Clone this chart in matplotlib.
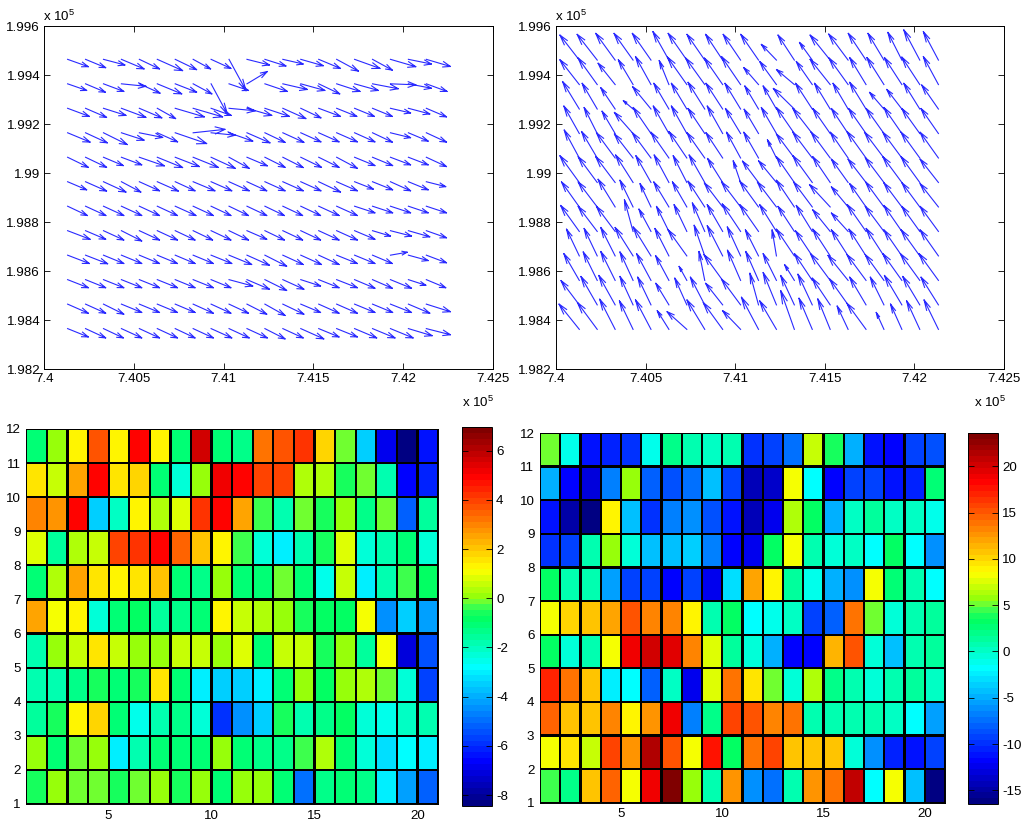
import numpy as np
import matplotlib
matplotlib.use('Agg')
import matplotlib.pyplot as plt
from matplotlib.colors import LinearSegmentedColormap

plt.rcParams['font.family'] = ['Liberation Sans', 'DejaVu Sans']
plt.rcParams['font.size'] = 9.6
plt.rcParams['axes.unicode_minus'] = False
plt.rcParams['mathtext.default'] = 'regular'
plt.rcParams['axes.linewidth'] = 0.7

# arrow tails, metres (same grid in both plots, top row first)
x_left = [740130, 740230, 740330, 740430, 740530, 740630, 740730, 740830, 740930, 741030, 741130,
          741230, 741330, 741430, 741530, 741630, 741730, 741830, 741930, 742030, 742130]
y_left = [199465, 199365, 199265, 199165, 199065, 198965, 198865, 198765, 198665, 198565, 198465, 198365]
x_right = [740130, 740230, 740330, 740430, 740530, 740630, 740730, 740830, 740930, 741030, 741130,
           741230, 741330, 741430, 741530, 741630, 741730, 741830, 741930, 742030, 742134]
y_right = [199462, 199362, 199262, 199162, 199062, 198962, 198862, 198762, 198662, 198562, 198462, 198362]

# top left arrows, metres
u_left = [
    [115, 112, 119, 126, 112, 141, 119, 97, 110, 95, 125, 117, 113, 125, 121, 121, 141, 110, 141, 128, 134],
    [106, 110, 113, 136, 115, 136, 119, 104, 91, 108, 113, 125, 136, 134, 117, 130, 132, 143, 141, 128, 115],
    [121, 117, 125, 136, 125, 102, 162, 164, 112, 145, 138, 136, 128, 112, 121, 112, 110, 110, 112, 119, 112],
    [125, 121, 132, 126, 130, 113, 175, 177, 134, 132, 128, 112, 117, 112, 113, 115, 113, 110, 112, 110, 112],
    [115, 117, 110, 113, 139, 141, 134, 139, 134, 112, 113, 112, 113, 115, 113, 115, 113, 112, 112, 110, 112],
    [106, 117, 125, 108, 112, 117, 110, 121, 115, 112, 110, 112, 113, 112, 121, 115, 104, 112, 112, 110, 108],
    [110, 113, 113, 113, 112, 112, 115, 112, 110, 108, 110, 108, 110, 110, 113, 115, 113, 112, 112, 110, 112],
    [125, 112, 113, 113, 112, 112, 110, 108, 110, 108, 110, 108, 110, 110, 113, 115, 113, 100, 117, 119, 112],
    [121, 123, 113, 113, 112, 112, 110, 112, 115, 126, 125, 121, 113, 115, 113, 115, 113, 110, 93, 110, 112],
    [115, 112, 113, 113, 112, 112, 110, 112, 110, 132, 125, 121, 117, 110, 113, 115, 113, 110, 117, 97, 108],
    [115, 112, 113, 113, 112, 112, 110, 112, 110, 108, 110, 112, 117, 110, 113, 115, 113, 112, 117, 119, 134],
    [115, 112, 110, 113, 112, 112, 110, 112, 115, 112, 113, 112, 113, 128, 113, 115, 123, 125, 126, 132, 134],
]
v_left = [
    [-30, -34, -23, -39, -39, -46, -42, -39, -37, -128, -23, -27, -19, -26, -37, -48, -37, -44, -30, -19, -29],
    [-27, -34, -31, -10, -38, -41, -34, -41, -124, -27, 50, -31, -23, -27, -41, -31, -27, -20, -4, -18, -31],
    [-33, -37, -29, -37, -39, -42, -35, -35, -29, -10, -29, -33, -42, -39, -33, -33, -33, -33, -19, -23, -35],
    [-38, -41, -48, -30, -19, -37, -44, 14, -10, -34, -41, -39, -39, -37, -37, -37, -37, -38, -20, -34, -38],
    [-41, -41, -34, -31, -35, -42, -38, -41, -45, -45, -35, -41, -42, -41, -41, -45, -34, -34, -31, -31, -38],
    [-33, -38, -42, -42, -37, -38, -37, -37, -37, -37, -37, -37, -37, -37, -42, -37, -30, -33, -37, -33, -20],
    [-38, -38, -38, -38, -38, -38, -38, -38, -38, -38, -38, -38, -38, -38, -38, -38, -27, -27, -27, -27, -27],
    [-35, -35, -38, -42, -38, -38, -38, -38, -38, -38, -35, -38, -38, -38, -38, -38, -35, -22, -22, -25, -29],
    [-34, -35, -34, -34, -34, -34, -34, -34, -34, -38, -41, -45, -38, -38, -38, -34, -34, -34, 12, -22, -31],
    [-33, -33, -33, -33, -33, -33, -33, -33, -33, -26, -39, -44, -39, -26, -33, -33, -35, -35, -35, -23, -33],
    [-37, -37, -41, -34, -34, -34, -34, -37, -37, -37, -41, -46, -41, -34, -37, -37, -34, -34, -34, -37, -31],
    [-34, -38, -38, -38, -38, -38, -38, -38, -38, -38, -38, -42, -38, -42, -34, -34, -38, -38, -38, -29, -25],
]

# top right arrows, metres
u_right = [
    [-108, -112, -108, -106, -104, -89, -104, -99, -95, -97, -99, -84, -91, -71, -112, -108, -99, -89, -78, -89, -84],
    [-108, -106, -95, -82, -86, -54, -108, -106, -102, -106, -82, -93, -99, -89, -112, -106, -91, -95, -97, -100, -84],
    [-93, -84, -80, -54, -102, -84, -86, -93, -93, -87, -76, -74, -117, -93, -87, -84, -91, -80, -84, -89, -93],
    [-86, -73, -73, -104, -99, -87, -86, -93, -86, -84, -80, -84, -100, -108, -97, -93, -97, -99, -100, -100, -97],
    [-84, -87, -104, -104, -104, -100, -100, -99, -93, -78, -82, -50, -100, -108, -106, -99, -106, -108, -106, -104, -102],
    [-108, -106, -108, -97, -84, -82, -76, -87, -84, -41, -89, -99, -100, -108, -97, -93, -100, -104, -106, -104, -102],
    [-99, -106, -95, -73, -61, -84, -80, -93, -102, -106, -104, -106, -100, -104, -115, -93, -91, -102, -100, -99, -102],
    [-104, -106, -104, -48, -67, -69, -71, -69, -86, -102, -104, -93, -91, -89, -97, -93, -104, -104, -100, -100, -102],
    [-71, -73, -80, -100, -99, -78, -104, -59, -86, -74, -73, -24, -100, -93, -97, -93, -95, -99, -100, -104, -102],
    [-86, -78, -80, -73, -80, -74, -43, -32, -104, -73, -71, -74, -54, -99, -110, -112, -106, -104, -106, -108, -108],
    [-102, -91, -91, -73, -74, -73, -67, -80, -95, -106, -48, -74, -76, -80, -100, -102, -91, -76, -97, -95, -97],
    [-113, -110, -86, -76, -86, -65, -110, -99, -108, -100, -95, -93, -76, -74, -69, -61, -106, -43, -63, -73, -80],
]
v_right = [
    [102, 105, 109, 109, 109, 116, 109, 105, 105, 105, 105, 64, 102, 72, 102, 106, 109, 109, 113, 123, 116],
    [101, 108, 87, 101, 114, 98, 112, 108, 108, 114, 69, 94, 61, 94, 103, 108, 110, 110, 110, 112, 114],
    [112, 105, 87, 34, 91, 105, 105, 109, 105, 105, 94, 94, 84, 105, 105, 105, 109, 68, 80, 105, 98],
    [112, 106, 91, 86, 106, 112, 112, 102, 112, 102, 99, 106, 106, 102, 102, 102, 102, 102, 106, 102, 102],
    [114, 108, 103, 98, 103, 105, 108, 103, 103, 105, 105, 74, 98, 105, 105, 105, 108, 105, 105, 105, 105],
    [109, 105, 105, 112, 109, 112, 109, 112, 98, 88, 87, 88, 105, 109, 105, 95, 95, 101, 105, 105, 95],
    [102, 102, 113, 109, 95, 102, 102, 105, 98, 102, 105, 102, 109, 102, 91, 82, 95, 102, 98, 98, 95],
    [106, 102, 102, 129, 91, 102, 109, 116, 109, 112, 109, 109, 102, 106, 88, 75, 109, 102, 106, 102, 102],
    [109, 112, 116, 116, 118, 112, 106, 125, 123, 118, 106, 106, 109, 102, 109, 106, 109, 112, 106, 106, 106],
    [109, 116, 118, 116, 109, 101, 57, 118, 105, 123, 118, 109, 64, 109, 109, 102, 105, 105, 109, 109, 109],
    [99, 116, 120, 116, 113, 88, 109, 113, 88, 105, 129, 132, 120, 125, 109, 105, 113, 113, 120, 116, 113],
    [103, 109, 123, 116, 120, 76, 72, 120, 109, 76, 131, 116, 158, 127, 124, 95, 106, 69, 103, 116, 120],
]

# cell values, top row first
c_left = [
    [-1.0, 0.1, 1.2, 3.7, 1.4, 4.8, 1.2, -1.2, 5.7, -1.1, -1.4, 3.3, 3.8, 4.3, 1.9, -0.2, -3.6, -6.9, -8.3, -6.3],
    [1.5, 0.7, 2.6, 4.9, 1.6, 1.9, -1.1, -2.4, 0.2, 5.2, 4.9, 3.9, 3.9, 0.3, 0.3, -0.6, -0.2, -1.9, -6.7, -6.2],
    [2.9, 2.7, 4.8, -3.4, -2.1, 1.4, 0.3, 0.9, 4.2, 4.8, 2.4, -0.4, -1.7, -0.2, -0.5, 0.2, -1.3, -0.2, -5.3, -1.5],
    [0.9, -1.6, 0.3, 0.5, 4.0, 4.3, 4.8, 3.5, 2.1, 1.4, -0.4, -2.2, -3.0, -1.7, -0.5, 0.9, -2.2, -1.8, -1.1, -2.4],
    [-1.2, 0.4, 2.5, 1.5, 1.2, 1.5, 2.0, -1.2, -1.4, 0.2, -1.2, -1.0, -0.2, -1.0, -2.5, 0.7, -3.0, -1.9, -0.4, -0.9],
    [2.6, 1.0, 1.2, -2.2, -1.0, -0.9, -1.5, -1.3, -1.2, 1.4, 0.7, 0.4, 0.2, -0.5, -0.9, -0.9, 1.0, -4.5, -3.5, -4.3],
    [-1.7, 0.1, 0.6, 1.5, 0.6, 0.2, 0.2, 0.5, 0.5, 0.2, 0.8, -1.0, 0.5, 0.5, -0.5, 0.1, -1.6, 1.0, -7.0, -5.5],
    [-1.8, -1.9, -1.4, -0.5, -1.1, -0.6, 1.6, -1.0, -2.9, -3.4, -3.6, -3.0, -1.1, 0.2, -0.9, 0.2, 0.3, -0.1, -2.3, -5.7],
    [-1.5, -0.6, 1.4, 1.8, -1.2, -2.6, -1.9, -1.3, -2.4, -6.0, -4.4, -3.6, -0.5, -1.8, -1.4, -0.9, -2.4, -2.6, -2.1, -1.9],
    [0.2, -1.2, -0.2, 0.2, -3.1, -1.7, -1.1, -1.0, -1.0, 0.1, -1.2, -1.4, -1.3, -0.4, 0.3, -1.0, -2.4, -3.2, -2.8, -3.1],
    [-0.5, 0.2, -0.2, -0.2, -0.5, -0.2, 0.2, -0.5, 0.2, -1.0, 0.2, 0.2, -1.1, -4.9, -1.4, -1.2, -1.4, -2.9, -4.2, -5.2],
]
c_right = [
    [5, -1.2, -11, -10.8, -10, -1.3, 2, 1, 0.3, 0.5, -10, -9.5, -7.5, 6.8, 4, -5, -11, -11.5, -9.5, -8.5],
    [-5, -11.5, -13, -6.5, 5.5, -8, -8.5, -7.5, -4.5, -9, -14, -13.5, 8, -2, -12, -9.5, -9.5, -11, -10.5, 2.5],
    [-11, -15, -16.2, 8.6, -4.5, -10, -7, -6, -8.5, -11, -14, -12.5, 6.5, 3.5, -5, 0, 1.2, 0, 0.3, -1],
    [-10, -9, 0.6, 6, -0.7, -4.5, -4, -3.5, -7, -11.5, -12.5, 3.5, 8, 0.5, -0.6, 0.3, -1.5, 3, -1.8, -6],
    [3.5, 1, 1, -5.5, -9.5, -9, -12, -9.5, -12.5, -3, 12, 9, 1.3, -1.2, -5, -6, 8.5, 2.8, 0.5, -1.5],
    [8.5, 10, 10.5, 12, 15, 13, 13, 8.6, 0.8, 3.5, -1.5, -1, 0, -9.5, -8, 14, 5.3, -0.5, 0.5, 1.2],
    [3, -0.2, 1, 8.5, 19, 20, 19.7, 13.5, 7.5, 1.4, -0.2, -5, -12, -11.5, 11.5, 15, -0.3, -4, 0.5, 1.2],
    [17, 14, 11, -2.5, -1.5, -8, 0.3, -12.7, 7.5, 14, 9.2, 5, -0.3, 6.3, 1.8, 1, -0.8, 0.7, 1.3, 0.4],
    [14.5, 10.5, 11, 13, 8.7, 12.8, 19, -6.5, 2, 15.5, 15, 13, 14, 1, 0.5, 1, 1, 0.3, -1.5, -5.5],
    [8.5, 9.7, 7, 15.5, 12.5, 21.5, 15, 8, 17.5, 3, 14, 16, 10.7, 11, 10.7, -0.8, -6, -10.5, -11, -9.5],
    [4.8, 2, 11, 14.5, 8.5, 19, 23.4, 5.5, 0.5, 12.5, -6, -7.5, 1, 12.5, 14, 20.5, -1.5, 8.5, -4.5, -16],
]

x_ticks = [740000, 740500, 741000, 741500, 742000, 742500]
x_ticklabels = ['7.4', '7.405', '7.41', '7.415', '7.42', '7.425']
y_ticks = [198200, 198400, 198600, 198800, 199000, 199200, 199400, 199600]
y_ticklabels = ['1.982', '1.984', '1.986', '1.988', '1.99', '1.992', '1.994', '1.996']
cell_x = list(range(1, 22))
cell_y = list(range(1, 13))

W, H = 1024., 825.


def box(l, t, r, b):
    # pixel box of the reference -> figure axes
    return fig.add_axes([l / W, 1 - b / H, (r - l) / W, (b - t) / H])


def arrows(ax, x, y, u, v):
    # line arrows with two barbs worked out in data space, like matlab quiver
    x, y = np.meshgrid(x, y)
    u = np.array(u, float)
    v = np.array(v, float)
    a, b = 0.3, 0.27
    hx, hy = x + u, y + v
    nan = np.full(x.shape, np.nan)
    xs = np.stack([x, hx, nan, hx - a * (u + b * v), hx, hx - a * (u - b * v), nan], axis=-1)
    ys = np.stack([y, hy, nan, hy - a * (v - b * u), hy, hy - a * (v + b * u), nan], axis=-1)
    ax.plot(xs.ravel(), ys.ravel(), color='#2a2aff', lw=0.8)
    ax.set_xlim(740000, 742500)
    ax.set_ylim(198200, 199600)
    ax.set_xticks(x_ticks)
    ax.set_xticklabels(x_ticklabels)
    ax.set_yticks(y_ticks)
    ax.set_yticklabels(y_ticklabels)
    ax.tick_params(direction='in', top=True, right=True, length=4, width=0.6, pad=3)


def cells(ax, cax, c, clim, ticks):
    mesh = ax.pcolormesh(cell_x, cell_y, np.array(c)[::-1], cmap=cmap, vmin=clim[0], vmax=clim[1],
                         edgecolors='k', linewidth=0.9, snap=False)
    ax.set_xticks([5, 10, 15, 20])
    ax.set_yticks(cell_y)
    ax.tick_params(direction='in', top=True, right=True, length=3, width=0.6, pad=4)
    cb = fig.colorbar(mesh, cax=cax)
    cb.set_ticks(ticks)
    cb.ax.tick_params(direction='in', left=True, right=True, length=4, width=0.6, pad=3)
    cb.outline.set_linewidth(0.7)


cmap = LinearSegmentedColormap.from_list('jetish', [
    (0.0, (0, 0, 130 / 255.)),
    (0.11, (0, 0, 1)),
    (0.365, (0, 1, 1)),
    (0.49, (0, 1, 100 / 255.)),
    (0.515, (30 / 255., 1, 90 / 255.)),
    (0.535, (100 / 255., 1, 60 / 255.)),
    (0.555, (150 / 255., 1, 10 / 255.)),
    (0.625, (1, 1, 0)),
    (0.875, (1, 0, 0)),
    (1.0, (128 / 255., 0, 0)),
], N=64)

fig = plt.figure(figsize=(10.24, 8.25), dpi=100)

ax1 = box(44.3, 26.3, 492.7, 369)
arrows(ax1, x_left, y_left, u_left, v_left)
ax2 = box(556, 26.3, 1004, 369)
arrows(ax2, x_right, y_right, u_right, v_right)

for px, py in [(43, 21), (462, 407), (555, 21), (974, 407)]:
    fig.text(px / W, 1 - py / H, 'x 10$^{5}$')

ax3 = box(26.3, 429, 438, 804)
cax3 = box(461.7, 427, 492, 805.6)
cells(ax3, cax3, c_left, (-8.43, 6.96), [-8, -6, -4, -2, 0, 2, 4, 6])
ax4 = box(540, 433, 945, 802.7)
cax4 = box(968, 433, 998, 804)
cells(ax4, cax4, c_right, (-16.48, 23.6), [-15, -10, -5, 0, 5, 10, 15, 20])

fig.savefig('out.png', dpi=100)
